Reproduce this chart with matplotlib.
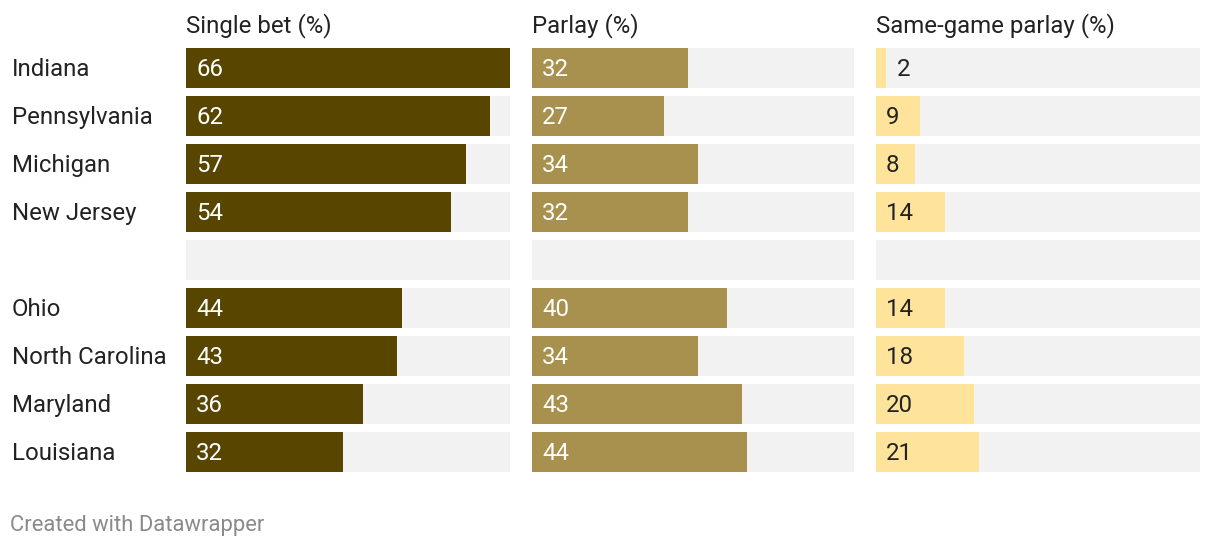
import matplotlib.pyplot as plt
import numpy as np

plt.rcParams['font.family'] = ['Roboto', 'DejaVu Sans']

# Данные
states = ["Indiana", "Pennsylvania", "Michigan", "New Jersey", "",
          "Ohio", "North Carolina", "Maryland", "Louisiana"]
single_bet = [66, 62, 57, 54, None, 44, 43, 36, 32]
parlay = [32, 27, 34, 32, None, 40, 34, 43, 44]
same_game = [2, 9, 8, 14, None, 14, 18, 20, 21]

titles = ["Single bet (%)", "Parlay (%)", "Same-game parlay (%)"]
colors = ["#574500", "#a8904e", "#fee49b"]
label_colors = ["white", "white", "#222222"]
x_max = 66

W, H = 1220, 548
fig = plt.figure(figsize=(W / 100, H / 100), dpi=100)

# положение колонок в пикселях
col_left = [186, 532, 876]
col_width = [324, 322, 324]
top_px, bottom_px = 48, 472
bar_h = 40 / 48
fs = 17.3

series = [single_bet, parlay, same_game]
y = np.arange(len(states))


def fy(px):
    return 1 - px / H


for k in range(3):
    ax = fig.add_axes([col_left[k] / W, fy(bottom_px),
                       col_width[k] / W, (bottom_px - top_px) / H])
    ax.set_xlim(0, x_max)
    ax.set_ylim(len(states) - 1 + bar_h / 2, -bar_h / 2)
    ax.axis("off")
    # серый фон
    ax.barh(y, [x_max] * len(states), height=bar_h, color="#f2f2f2", left=0)
    px_per_unit = col_width[k] / x_max
    for i, v in enumerate(series[k]):
        if v is None:
            continue
        ax.barh(i, v, height=bar_h, color=colors[k])
        base = fy(76 + 48 * i)
        if v * px_per_unit < 30:
            x0 = (col_left[k] + v * px_per_unit + 11) / W
            fig.text(x0, base, str(v), va="baseline", ha="left",
                     fontsize=fs, color="#222222")
        else:
            fig.text((col_left[k] + 10) / W, base, str(v), va="baseline",
                     ha="left", fontsize=fs, color=label_colors[k])
    fig.text(col_left[k] / W, fy(32), titles[k], fontsize=fs,
             color="#222222", va="baseline", ha="left")

# подписи штатов
for i, s in enumerate(states):
    if s:
        fig.text(12 / W, fy(76 + 48 * i), s, fontsize=fs,
                 color="#222222", va="baseline", ha="left")

fig.text(10 / W, fy(531), "Created with Datawrapper", fontsize=15.8,
         color="#8a8a8a", va="baseline", ha="left")

fig.savefig("out.png", dpi=100, facecolor="white")
